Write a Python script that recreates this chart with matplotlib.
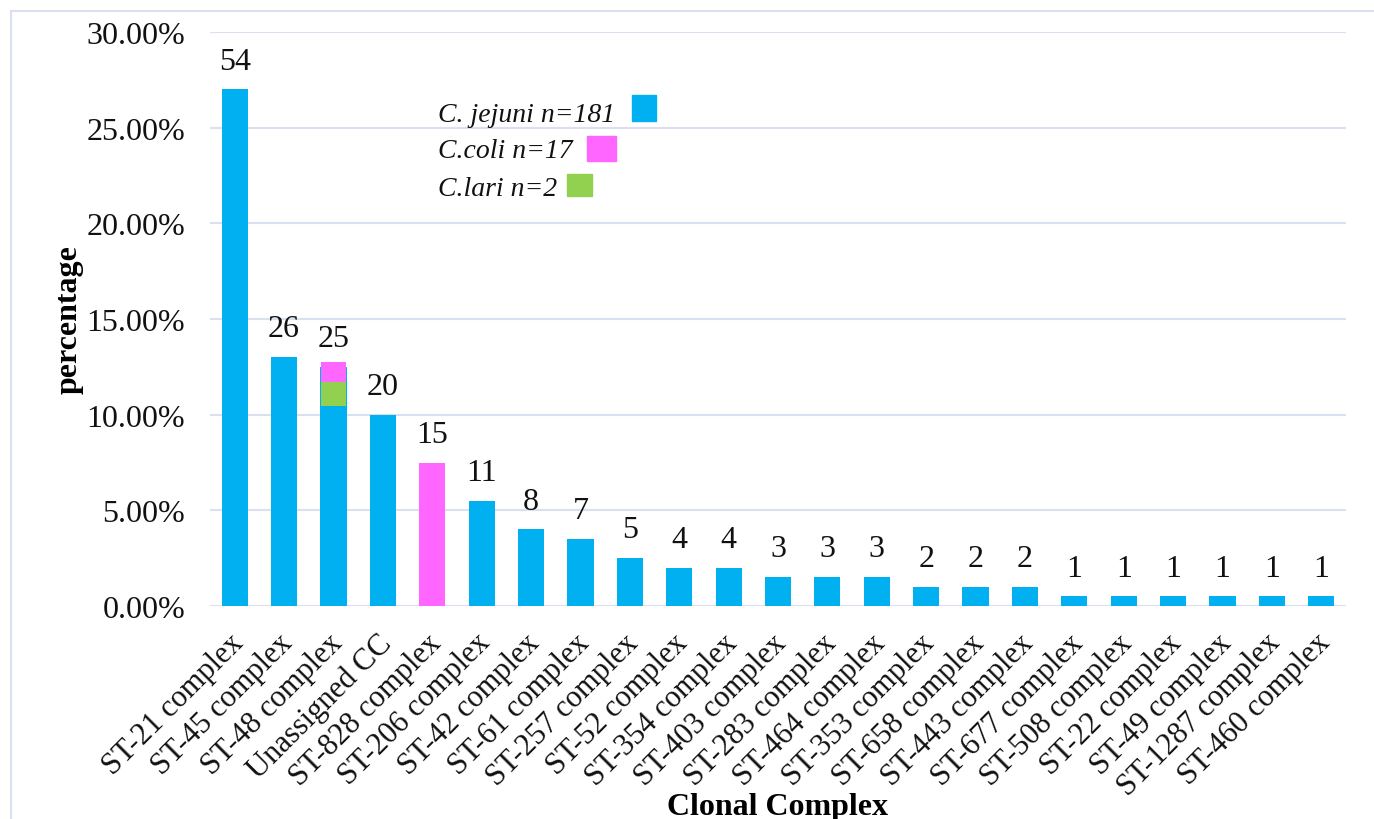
import matplotlib
matplotlib.use("Agg")
import matplotlib.pyplot as plt
from matplotlib.patches import Rectangle
from matplotlib.ticker import FuncFormatter
from matplotlib.transforms import ScaledTranslation

# Clonal complexes and isolate counts (n = 200)
complexes = ["ST-21 complex", "ST-45 complex", "ST-48 complex", "Unassigned CC",
             "ST-828 complex", "ST-206 complex", "ST-42 complex", "ST-61 complex",
             "ST-257 complex", "ST-52 complex", "ST-354 complex", "ST-403 complex",
             "ST-283 complex", "ST-464 complex", "ST-353 complex", "ST-658 complex",
             "ST-443 complex", "ST-677 complex", "ST-508 complex", "ST-22 complex",
             "ST-49 complex", "ST-1287 complex", "ST-460 complex"]
counts = [54, 26, 25, 20, 15, 11, 8, 7, 5, 4, 4, 3, 3, 3, 2, 2, 2, 1, 1, 1, 1, 1, 1]
species = ["jejuni", "jejuni", "jejuni", "jejuni", "coli", "jejuni", "jejuni", "jejuni",
           "jejuni", "jejuni", "jejuni", "jejuni", "jejuni", "jejuni", "jejuni", "jejuni",
           "jejuni", "jejuni", "jejuni", "jejuni", "jejuni", "jejuni", "jejuni"]
total = 200

# Non-jejuni isolates marked inside the ST-48 bar (percent range)
inset_complex = ["ST-48 complex", "ST-48 complex"]
inset_species = ["coli", "lari"]
inset_low = [11.45, 10.45]
inset_high = [12.75, 11.7]

legend_labels = ["C. jejuni n=181", "C.coli n=17", "C.lari n=2"]
legend_species = ["jejuni", "coli", "lari"]

y_ticks = [0, 5, 10, 15, 20, 25, 30]

colors = {"jejuni": "#00B0F0", "coli": "#FF66FF", "lari": "#92D050"}
grid_color = "#D9E1F0"
serif = ["Liberation Serif", "DejaVu Serif"]

plt.rcParams["font.family"] = serif

fig = plt.figure(figsize=(13.74, 8.2), dpi=100)
ax = fig.add_axes([210 / 1374, 1 - 607 / 820, 1136 / 1374, 574 / 820])

pct = [c / total * 100 for c in counts]
x = list(range(len(complexes)))
ax.bar(x, pct, width=0.53, color=[colors[s] for s in species], zorder=2)

for xi, p, c in zip(x, pct, counts):
    ax.annotate(str(c), (xi, p), xytext=(0, 10), textcoords="offset points",
                ha="center", va="bottom", fontsize=23, color="#111111")

for cx, sp, lo, hi in zip(inset_complex, inset_species, inset_low, inset_high):
    xi = complexes.index(cx)
    ax.bar(xi, hi - lo, bottom=lo, width=0.5, color=colors[sp], zorder=3)

ax.set_xlim(-0.5, len(complexes) - 0.5)
ax.set_ylim(0, 30)
ax.set_yticks(y_ticks)
ax.yaxis.set_major_formatter(FuncFormatter(lambda v, _: f"{v:.2f}%"))
ax.grid(axis="y", color=grid_color, linewidth=1.5, zorder=0)
for s in ax.spines.values():
    s.set_visible(False)
ax.tick_params(axis="both", length=0, labelsize=23, colors="#111111")
ax.tick_params(axis="y", pad=18)
ax.set_xticks(x)
ax.set_xticklabels(complexes, rotation=45, ha="right", va="top",
                   rotation_mode="anchor", fontsize=22)
ax.tick_params(axis="x", pad=10)
shift = ScaledTranslation(-0.06, -0.08, fig.dpi_scale_trans)
for lbl in ax.get_xticklabels():
    lbl.set_transform(lbl.get_transform() + shift)

ax.set_ylabel("percentage", fontsize=23, fontweight="bold", labelpad=2)
fig.text(778 / 1374, 1 - 808 / 820, "Clonal Complex", ha="center", va="center",
         fontsize=23, fontweight="bold")

# Species key
key_text_y = [115, 152, 189]
key_box = [(632, 96, 24, 26), (587, 137, 29, 25), (567, 175, 25, 22)]
for lab, sp, ty, (bx, by, bw, bh) in zip(legend_labels, legend_species, key_text_y, key_box):
    fig.text(438 / 1374, 1 - ty / 820, lab, ha="left", va="center", fontsize=20,
             style="italic", color="#111111")
    fig.patches.append(Rectangle((bx / 1374, 1 - (by + bh) / 820), bw / 1374, bh / 820,
                                 transform=fig.transFigure, color=colors[sp], zorder=5))

# Outer frame
fig.patches.append(Rectangle((11 / 1374, -0.02), 1.0, 1 - 12 / 820 + 0.02,
                             transform=fig.transFigure, fill=False,
                             edgecolor=grid_color, linewidth=1.5))

fig.savefig("out.png", dpi=100)
